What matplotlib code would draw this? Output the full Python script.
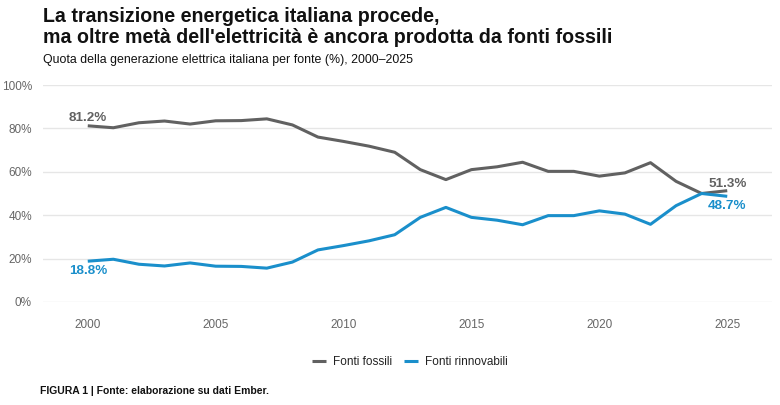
import matplotlib
matplotlib.use("Agg")
import matplotlib.pyplot as plt
from matplotlib.ticker import FuncFormatter

years = list(range(2000, 2026))
fossili = [81.2, 80.3, 82.6, 83.4, 82.0, 83.5, 83.6, 84.4, 81.6, 76.0, 74.0, 71.8, 69.0,
           61.0, 56.4, 61.0, 62.3, 64.4, 60.2, 60.2, 58.0, 59.5, 64.2, 55.6, 50.0, 51.3]
rinnovabili = [18.8, 19.7, 17.4, 16.6, 18.0, 16.5, 16.4, 15.6, 18.4, 24.0, 26.0, 28.2, 31.0,
               39.0, 43.6, 39.0, 37.7, 35.6, 39.8, 39.8, 42.0, 40.5, 35.8, 44.4, 50.0, 48.7]
series_names = ["Fonti fossili", "Fonti rinnovabili"]
y_ticks = [0, 20, 40, 60, 80, 100]
x_ticks = [2000, 2005, 2010, 2015, 2020, 2025]

title = "La transizione energetica italiana procede,\nma oltre metà dell'elettricità è ancora prodotta da fonti fossili"
subtitle = "Quota della generazione elettrica italiana per fonte (%), 2000–2025"
caption = "FIGURA 1 | Fonte: elaborazione su dati Ember."

C_FOS = "#616161"
C_REN = "#1a8fcb"
TICK = "#666666"

plt.rcParams['font.family'] = ['Liberation Sans', 'DejaVu Sans']

fig = plt.figure(figsize=(7.8, 4.05), dpi=100)
ax = fig.add_axes([43/780, 1 - 302/405, (772-43)/780, (302-85)/405])

ax.plot(years, fossili, color=C_FOS, lw=2.2, solid_capstyle='butt', label=series_names[0])
ax.plot(years, rinnovabili, color=C_REN, lw=2.2, solid_capstyle='butt', label=series_names[1])

ax.set_xlim(1998.25, 2026.75)
ax.set_ylim(0, 100)
ax.set_yticks(y_ticks)
ax.set_xticks(x_ticks)
ax.yaxis.set_major_formatter(FuncFormatter(lambda v, p: f"{int(v)}%"))
ax.grid(axis='y', color='#e6e6e6', lw=1)
ax.set_axisbelow(True)
for s in ax.spines.values():
    s.set_visible(False)
ax.tick_params(axis='both', length=0, labelsize=8.5, colors=TICK)
ax.tick_params(axis='y', pad=8)
ax.tick_params(axis='x', pad=12)

def lbl(v):
    return f"{v:.1f}%"

ax.annotate(lbl(fossili[0]), (years[0], fossili[0]), xytext=(0, 1.5), textcoords='offset points',
            ha='center', va='bottom', color=C_FOS, fontsize=9.7, fontweight='bold')
ax.annotate(lbl(rinnovabili[0]), (years[0], rinnovabili[0]), xytext=(0, -2.5), textcoords='offset points',
            ha='center', va='top', color=C_REN, fontsize=9.7, fontweight='bold')
ax.annotate(lbl(fossili[-1]), (years[-1], fossili[-1]), xytext=(0, 0.5), textcoords='offset points',
            ha='center', va='bottom', color=C_FOS, fontsize=9.7, fontweight='bold')
ax.annotate(lbl(rinnovabili[-1]), (years[-1], rinnovabili[-1]), xytext=(0, -3), textcoords='offset points',
            ha='center', va='top', color=C_REN, fontsize=9.7, fontweight='bold')

fig.text(43/780, 1 - 7/405, title, ha='left', va='top', fontsize=14.1, fontweight='bold',
         color='#111111', linespacing=1.12)
fig.text(43/780, 1 - 60/405, subtitle, ha='left', va='center', fontsize=8.9, color='#111111')

leg = fig.legend(loc='center', bbox_to_anchor=(410/780, 1 - 362/405), ncol=2, frameon=False,
                 fontsize=8.5, handlelength=1.2, handletextpad=0.6, columnspacing=1.0)
for t in leg.get_texts():
    t.set_color('#222222')

fig.text(40/780, 1 - 391/405, caption, ha='left', va='center', fontsize=7.5, fontweight='bold',
         color='#111111')

fig.savefig("out.png", dpi=100, facecolor='white')
